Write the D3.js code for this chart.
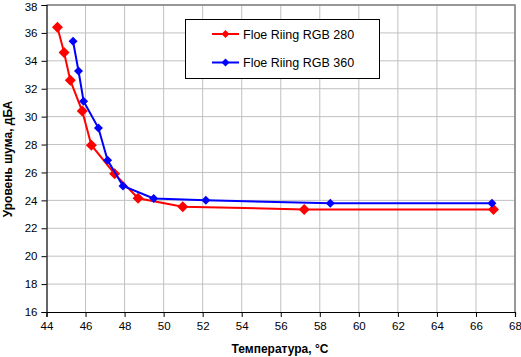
<!DOCTYPE html>
<html><head><meta charset="utf-8">
<script src="https://cdn.jsdelivr.net/npm/d3@7"></script>
<style>body{margin:0;background:#fff}svg{display:block}text{font-family:"Liberation Sans",Arial,sans-serif}</style>
</head><body><svg id="c" width="521" height="357"></svg>
<script>
const seriesNames = ["Floe Riing RGB 280", "Floe Riing RGB 360"];
const temp280 = [44.56, 44.9, 45.22, 45.83, 46.3, 47.49, 48.69, 50.98, 57.2, 66.9];
const noise280 = [36.4, 34.6, 32.6, 30.4, 27.95, 25.9, 24.15, 23.55, 23.35, 23.35];
const temp360 = [45.36, 45.64, 45.9, 46.66, 47.13, 47.92, 49.49, 52.16, 58.54, 66.82];
const noise360 = [35.4, 33.27, 31.1, 29.18, 26.87, 25.03, 24.14, 24.0, 23.8, 23.8];
const xTicks = d3.range(44, 69, 2);
const yTicks = d3.range(16, 39, 2);

const svg = d3.select("#c");
const L = 46.5, R = 515, T = 5, B = 312;
const x = d3.scaleLinear().domain([44, 68]).range([L, R]);
const y = d3.scaleLinear().domain([16, 38]).range([B, T]);

// grid
svg.append("g").selectAll("line.v").data(xTicks.slice(1)).join("line")
  .attr("x1", d => x(d)).attr("x2", d => x(d)).attr("y1", T).attr("y2", B)
  .attr("stroke", "#c0c0c0").attr("stroke-width", 1);
svg.append("g").selectAll("line.h").data(yTicks.slice(1)).join("line")
  .attr("x1", L).attr("x2", R).attr("y1", d => y(d)).attr("y2", d => y(d))
  .attr("stroke", "#c0c0c0").attr("stroke-width", 1);
// frame
svg.append("path").attr("d", `M${L},${T}H${R}V${B}`).attr("fill", "none").attr("stroke", "#808080").attr("stroke-width", 1.5);

// axes
const xa = svg.append("g").attr("transform", `translate(0,${B})`)
  .call(d3.axisBottom(x).tickValues(xTicks).tickSize(5).tickPadding(5).tickFormat(d3.format("d")));
const ya = svg.append("g").attr("transform", `translate(${L},0)`)
  .call(d3.axisLeft(y).tickValues(yTicks).tickSize(5).tickPadding(4).tickFormat(d3.format("d")));
[xa, ya].forEach(a => {
  a.select(".domain").attr("stroke", "#000").attr("stroke-width", 1.2);
  a.selectAll(".tick line").attr("stroke", "#000");
  a.selectAll("text").attr("font-size", 11.5).attr("fill", "#000").attr("font-family", "Liberation Sans, Arial, sans-serif");
});
ya.selectAll(".tick text").filter(d => d === 38).attr("dy", "0.45em");

const line = d3.line().x(d => x(d[0])).y(d => y(d[1]));
const data280 = temp280.map((t, i) => [t, noise280[i]]);
const data360 = temp360.map((t, i) => [t, noise360[i]]);
const diamond = (s) => `M0,${-s}L${s},0L0,${s}L${-s},0Z`;

function drawSeries(data, color, msize) {
  svg.append("path").datum(data).attr("d", line).attr("fill", "none")
    .attr("stroke", color).attr("stroke-width", 2);
  svg.append("g").selectAll("path").data(data).join("path")
    .attr("d", diamond(msize)).attr("fill", color)
    .attr("transform", d => `translate(${x(d[0])},${y(d[1])})`);
}
drawSeries(data280, "#ff0000", 5.5);
drawSeries(data360, "#0000ff", 4.5);

// legend
const lg = svg.append("g");
lg.append("rect").attr("x", 185.5).attr("y", 19.5).attr("width", 194).attr("height", 59)
  .attr("fill", "#fff").attr("stroke", "#000").attr("stroke-width", 1);
const colors = ["#ff0000", "#0000ff"];
seriesNames.forEach((n, i) => {
  const yy = 34 + i * 28.5;
  lg.append("line").attr("x1", 212).attr("x2", 239).attr("y1", yy).attr("y2", yy)
    .attr("stroke", colors[i]).attr("stroke-width", 2);
  lg.append("path").attr("d", diamond(4)).attr("fill", colors[i]).attr("transform", `translate(225.5,${yy})`);
  lg.append("text").attr("x", 243).attr("y", yy + 4.5).attr("font-size", 12.5).text(n);
});

// titles
svg.append("text").attr("x", 280).attr("y", 353).attr("text-anchor", "middle")
  .attr("font-size", 12).attr("font-weight", "bold").text("Температура, °C");
svg.append("text").attr("transform", "translate(12,159) rotate(-90)").attr("text-anchor", "middle")
  .attr("font-size", 12).attr("font-weight", "bold").text("Уровень шума, дБА");
</script></body></html>
